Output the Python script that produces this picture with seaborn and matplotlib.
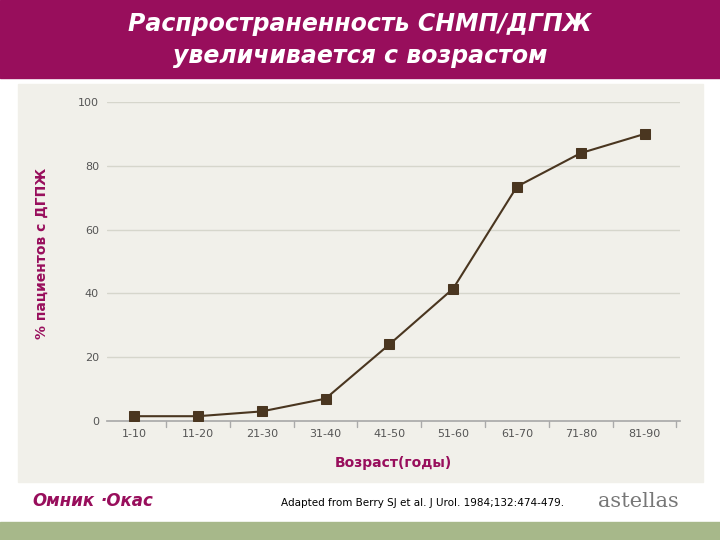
import numpy as np
import pandas as pd
import seaborn as sns
from matplotlib import pyplot as plt
from matplotlib.patches import Rectangle

# данные
ages = ['1-10', '11-20', '21-30', '31-40', '41-50', '51-60', '61-70', '71-80', '81-90']
percent = [1.5, 1.5, 3, 7, 24, 41.5, 73.5, 84, 90]
yticks = [0, 20, 40, 60, 80, 100]

sns.set_theme(style='white')
plt.rcParams['font.family'] = ['DejaVu Sans']

fig = plt.figure(figsize=(7.2, 5.4), dpi=100)
fig.patch.set_facecolor('white')
magenta = '#980e5c'

# фон слайда
bg = fig.add_axes([0, 0, 1, 1], zorder=-1)
bg.set_xlim(0, 720)
bg.set_ylim(540, 0)
bg.axis('off')
bg.add_patch(Rectangle((0, 0), 720, 78, color=magenta))
bg.add_patch(Rectangle((18, 84), 685, 398, color='#f1f0ea'))
bg.add_patch(Rectangle((0, 522), 720, 18, color='#a7b88a'))

fig.text(0.5, 0.955, 'Распространенность СНМП/ДГПЖ', ha='center', va='center', color='white',
         fontsize=17, fontweight='bold', style='italic')
fig.text(0.5, 0.897, 'увеличивается с возрастом', ha='center', va='center', color='white',
         fontsize=17, fontweight='bold', style='italic')

ax = fig.add_axes([0.149, 0.2204, 0.795, 0.5906])
ax.set_facecolor('none')
df = pd.DataFrame({'age': np.arange(len(ages)), 'pct': percent})
sns.lineplot(data=df, x='age', y='pct', ax=ax, color='#4a3620', marker='s', markersize=7,
             markeredgecolor='#4a3620', linewidth=1.5, zorder=3)

ax.set_xlim(-0.42, 8.55)
ax.set_ylim(0, 100)
ax.set_yticks(yticks)
ax.set_xticks(np.arange(len(ages)))
ax.set_xticklabels(ages, fontsize=8, color='#555555')
ax.set_yticklabels(yticks, fontsize=8, color='#555555')
ax.tick_params(axis='both', length=0, pad=6)
for y in yticks[1:]:
    ax.axhline(y, color='#d6d6cc', linewidth=1, zorder=0)
for x in np.arange(0.5, 8.6, 1):
    ax.plot([x, x], [0, -2], color='#aaaaaa', linewidth=1, clip_on=False)
for s in ['top', 'right', 'left']:
    ax.spines[s].set_visible(False)
ax.spines['bottom'].set_color('#aaaaaa')
ax.set_xlabel('Возраст(годы)', fontsize=10, fontweight='bold', color=magenta, labelpad=12)
ax.set_ylabel('')
fig.text(0.058, 0.53, '% пациентов с ДГПЖ', rotation=90, ha='center', va='center', fontsize=10,
         fontweight='bold', color=magenta)

# подвал
fig.text(0.045, 0.072, 'Омник', fontsize=12, fontweight='bold', style='italic', color=magenta, va='center')
fig.text(0.14, 0.072, '·Окас', fontsize=12, fontweight='bold', style='italic', color=magenta, va='center')
fig.text(0.39, 0.068, 'Adapted from Berry SJ et al. J Urol. 1984;132:474-479.', fontsize=7.5,
         color='black', va='center')
fig.text(0.83, 0.072, 'astellas', fontsize=15, color='#777777', va='center', family='serif')

fig.savefig('out.png', dpi=100)
